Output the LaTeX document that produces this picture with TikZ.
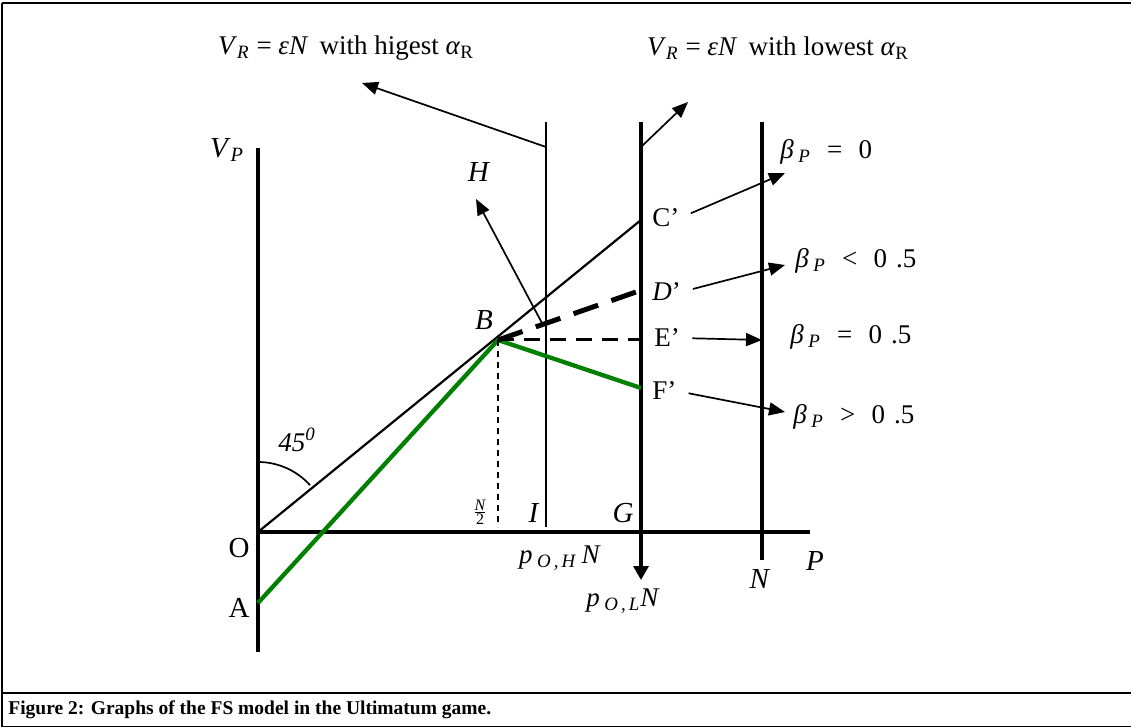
\documentclass[tikz,border=0pt]{standalone}
\usepackage{fontspec}
\setmainfont{Liberation Serif}
\usetikzlibrary{arrows.meta}
\definecolor{figG}{RGB}{0,128,0}
\newcommand{\bp}{\textit{β}\,\textsubscript{\textit{P}}}
\newcommand{\gp}{\hspace{0.6em}}

\begin{document}
\begin{tikzpicture}[x=0.5pt,y=-0.5pt,>={Triangle[length=8pt,width=6.5pt]},
  lbl/.style={font=\fontsize{13.5}{16}\selectfont,inner sep=0pt},
  big/.style={font=\fontsize{14.5}{17}\selectfont,inner sep=0pt},
  axis/.style={line width=1.65pt},
  ptr/.style={->,line width=0.85pt}]
\useasboundingbox (0,0) rectangle (1131,727);
\draw[line width=1.3pt] (2,3)--(1131,3); \draw[line width=0.6pt] (2,3)--(2,727);
\draw[line width=1.3pt] (2,693)--(1131,693); \draw[line width=0.6pt] (2,726.5)--(1131,726.5);
\node[anchor=west,inner sep=0pt,font=\fontsize{9.75}{11}\selectfont\bfseries] (cap) at (8,710) {Figure 2: Graphs of the FS model in the Ultimatum game.};

\coordinate (O) at (258,532); \coordinate (A) at (258,603); \coordinate (B) at (498,340);
\coordinate (Cp) at (641,220); \coordinate (Dp) at (636,292); \coordinate (Ep) at (641,340); \coordinate (Fp) at (641,388);
\coordinate (Bb) at (498,527);
\coordinate (It) at (546,122); \coordinate (Ib) at (546,527); \coordinate (Gt) at (641,122); \coordinate (Gb) at (641,580);
\coordinate (Nt) at (762,122); \coordinate (Nb) at (762,560);
\coordinate (Ia) at (546,147); \coordinate (Ga) at (641,147);

\draw[axis] (258,148)--(258,652); \draw[axis] (258,532)--(810,532);
\draw[line width=0.65pt] (It)--(Ib);
\draw[axis,->,>={Triangle[length=7pt,width=7.5pt]}] (Gt)--(Gb);
\draw[axis] (Nt)--(Nb);

\draw[line width=1.1pt] (O)--(Cp);
\draw[line width=2.15pt,figG] (A)--(B)--(Fp);
\draw[line width=2.5pt,dash pattern=on 13pt off 7pt] (B)--(Dp);
\draw[line width=1.5pt,dash pattern=on 8pt off 5pt] (B)--(Ep);
\draw[line width=0.6pt,dash pattern=on 3pt off 2.5pt] (B)--(Bb);
\draw[line width=0.85pt] (258,462) arc[start angle=-90,end angle=-42,radius=70];

\node[big] (VP) at (227,150) {\textit{V}\textsubscript{\textit{P}}};
\node[big] (Ol) at (239,548) {O};
\node[big] (Al) at (239,608) {A};
\node[big] (Bl) at (484,320) {\textit{B}};
\node[big] (Hl) at (479,172) {\textit{H}};
\node[lbl,anchor=west] (CpL) at (652,218) {C’};
\node[lbl,anchor=west] (DpL) at (652,292) {\textit{D}’};
\node[lbl,anchor=west] (EpL) at (654,338) {E’};
\node[lbl,anchor=west] (FpL) at (652,391) {F’};
\node[lbl] (ang) at (297,440) {\textit{45}\textsuperscript{\textit{0}}};
\node[lbl,font=\fontsize{8}{9}\selectfont] (half) at (480,512) {$\frac{\textit{N}}{\textrm{2}}$};
\node[big] (Il) at (534,513) {\textit{I}};
\node[big] (Gl) at (623,513) {\textit{G}};
\node[lbl] (pOH) at (560,558) {\textit{p}\,\textsubscript{\textit{O\,,\,H}}\,\textit{N}};
\node[lbl] (pOL) at (623,601) {\textit{p}\,\textsubscript{\textit{O\,,\,L}}\textit{N}};
\node[big] (Nl) at (760,579) {\textit{N}};
\node[big] (Pl) at (815,561) {\textit{P}};
\node[lbl,anchor=west] (b0) at (780,152) {\bp\gp=\gp0};
\node[lbl,anchor=west] (b1) at (795,261) {\bp\gp<\gp0\,\,.5};
\node[lbl,anchor=west] (b2) at (790,337) {\bp\gp=\gp0\,\,.5};
\node[lbl,anchor=west] (b3) at (793,417) {\bp\gp>\gp0\,\,.5};
\node[lbl] (topH) at (346,48) {\textit{V}\textsubscript{\textit{R}} = \textit{εN}\, with higest \textit{α}\textsubscript{R}};
\node[lbl] (topL) at (778,48) {\textit{V}\textsubscript{\textit{R}} = \textit{εN}\, with lowest \textit{α}\textsubscript{R}};

\coordinate (hT) at (362,83); \coordinate (lT) at (688,102); \coordinate (HT) at (476,199); \coordinate (Hs) at (543,325);
\coordinate (cT) at (785,173); \coordinate (dT) at (785,265); \coordinate (eT) at (762,340); \coordinate (fT) at (785,412);
\draw[ptr] (Ia)--(hT); \draw[ptr] (Ga)--(lT); \draw[ptr] (Hs)--(HT);
\draw[ptr,shorten <=6pt] (CpL.east)--(cT);
\draw[ptr,shorten <=6pt] (DpL.east)--(dT);
\draw[ptr,shorten <=6pt] (EpL.east)--(eT);
\draw[ptr,shorten <=6pt] (FpL.east)--(fT);
\end{tikzpicture}
\end{document}
